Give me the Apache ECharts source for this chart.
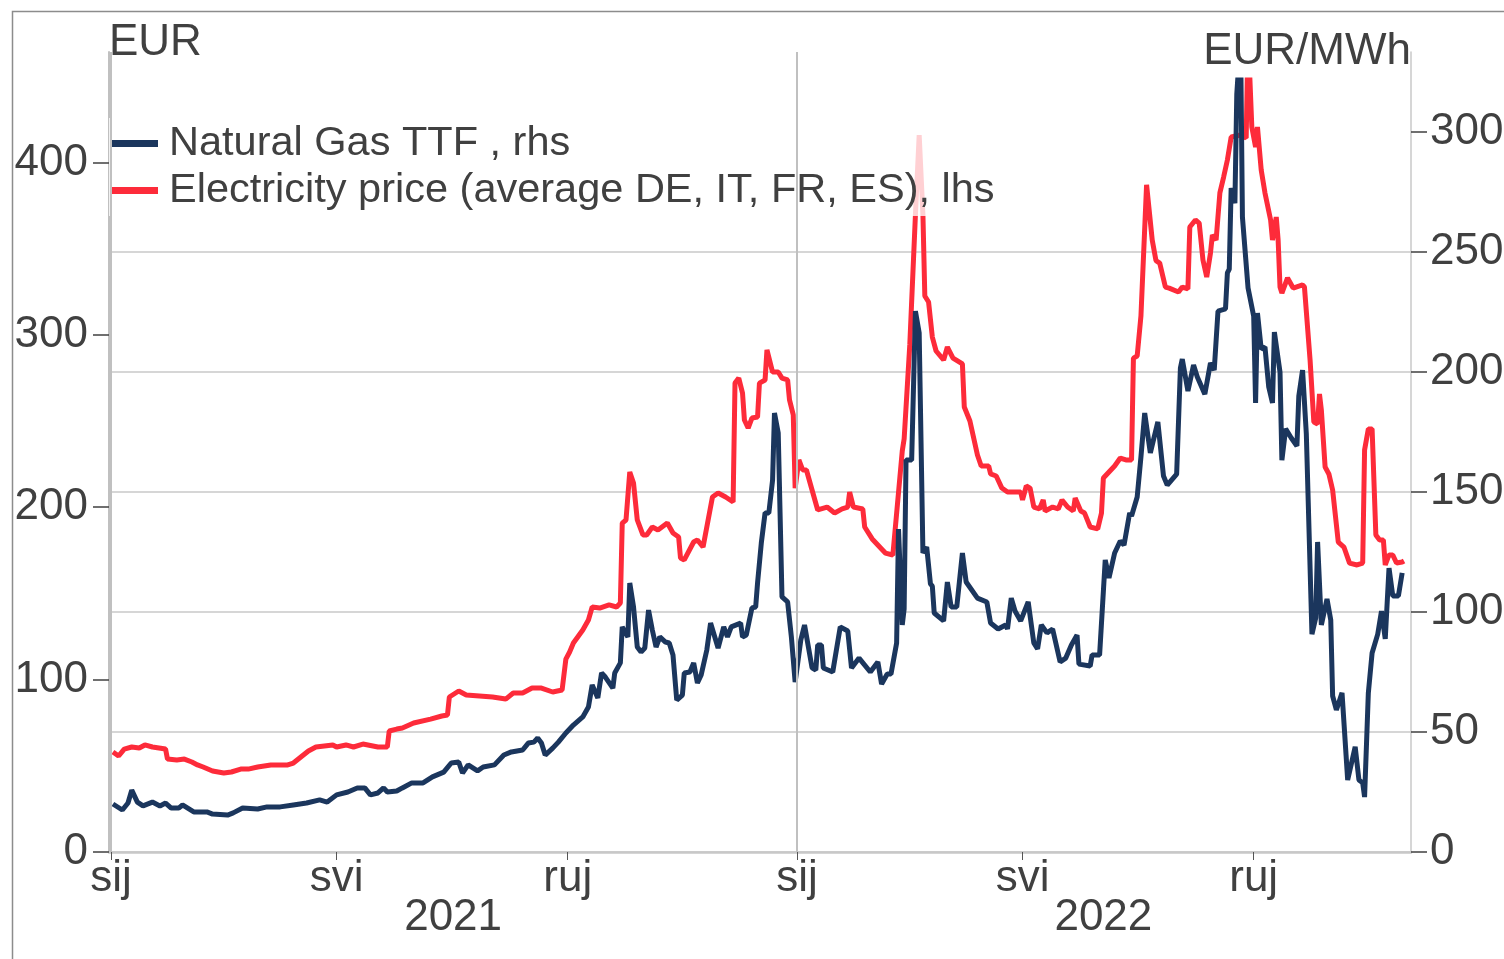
<!DOCTYPE html>
<html>
<head>
<meta charset="utf-8">
<title>Natural gas and electricity prices</title>
<script src="https://cdn.jsdelivr.net/npm/echarts@6/dist/echarts.min.js"></script>
<style>
  html, body { margin: 0; padding: 0; background: #fff; }
  #chart { width: 1504px; height: 959px; }
</style>
</head>
<body>
<div id="chart"></div>
<script>
// x positions are days counted from 1 Jan 2021
var elecDays = [1,4,7,11,15,18,22,29,30,35,39,43,46,49,54,60,64,69,73,78,85,94,97,101,105,109,118,120,125,129,134,142,147,148,152,155,161,170,176,179,180,185,189,203,210,214,219,224,229,235,240,242,244,246,251,254,256,260,265,269,271,272,274,276,278,280,283,285,288,291,296,299,302,303,305,310,312,315,318,320,323,327,331,332,334,336,337,339,341,344,345,348,349,352,355,357,360,361,363,364,366,368,370,373,376,381,385,389,392,393,395,400,401,405,408,412,416,421,422,425,428,430,432,433,435,437,439,443,445,448,453,454,457,461,463,467,468,471,474,477,484,485,487,489,491,494,496,497,501,504,506,509,512,513,516,518,521,525,527,528,531,534,537,540,543,544,546,548,551,554,556,558,561,563,568,570,573,574,577,579,581,583,585,586,588,590,592,594,596,601,604,605,606,607,609,610,612,614,617,618,620,621,622,623,626,629,634,635,638,640,642,643,644,646,648,650,653,656,659,663,666,667,668,669,671,673,675,677,678,680,682,684,687,688];
var elecValues = [58.0,55.7,59.7,60.9,60.3,62.1,60.9,59.7,53.9,53.4,53.9,52.2,50.5,49.3,47.0,45.8,46.4,48.1,48.1,49.3,50.5,50.5,51.6,55.1,58.6,60.9,62.1,60.9,62.1,60.9,62.6,60.9,60.9,70.2,71.3,71.9,74.8,77.1,78.9,79.5,89.9,93.4,91.1,89.9,88.7,92.2,92.2,95.1,95.1,92.8,94.0,111.9,116.0,121.2,128.8,134.6,142.1,141.5,143.3,142.1,144.4,190.8,192.6,220.4,214.0,192.6,183.9,183.9,188.5,186.8,190.8,185.0,182.7,170.5,169.4,179.8,181.0,176.9,194.3,205.9,208.2,205.9,203.0,272.0,274.9,266.2,250.6,245.9,251.7,252.3,272.0,273.8,291.2,278.4,278.4,274.9,273.8,262.2,253.5,211.1,227.4,221.6,221.6,210.0,198.4,200.1,196.6,199.0,200.1,208.8,200.1,199.0,188.5,181.6,178.1,173.4,172.3,232.6,239.6,294.1,369.5,415.9,369.5,322.5,319.0,298.7,290.6,285.4,292.9,286.5,283.1,258.1,250.0,230.3,223.9,223.9,219.3,218.1,211.1,208.8,208.8,204.2,212.3,211.1,200.1,199.0,204.2,197.8,200.1,199.0,204.2,200.1,197.8,205.3,197.8,196.6,188.5,187.4,196.6,216.9,220.4,223.9,228.5,227.4,227.4,286.5,287.7,310.9,387.0,355.0,343.0,341.6,327.7,327.1,324.8,327.7,326.6,362.5,366.6,364.8,343.4,333.5,347.4,357.9,355.0,382.3,391.5,401.4,414.7,415.9,414.2,475.0,475.0,420.5,408.9,420.5,395.6,382.3,366.6,355.0,368.3,355.0,327.7,324.2,333.0,327.1,328.9,327.7,285.4,249.4,248.3,265.7,256.4,223.3,219.3,210.0,179.8,176.9,167.6,166.5,167.6,233.2,234.3,245.4,245.4,183.9,181.0,181.0,166.5,172.3,172.3,167.6,168.2,168.8];

var gasDays = [1,6,9,11,14,17,22,26,29,32,36,38,44,51,54,62,65,70,78,83,90,97,104,111,115,120,126,131,135,138,142,145,147,152,155,160,166,171,177,181,185,187,190,195,198,204,209,213,219,222,225,227,229,231,235,238,242,246,251,254,256,259,261,263,267,268,271,272,275,276,278,280,282,284,286,288,290,292,295,297,299,301,304,305,308,310,312,314,317,319,320,323,326,328,330,335,336,338,341,343,344,346,348,350,352,353,355,357,360,362,364,367,369,373,375,376,378,379,384,388,392,394,398,404,408,410,413,415,418,419,421,422,423,426,428,430,432,434,436,437,438,443,445,446,447,450,453,455,461,466,468,472,476,477,479,481,484,488,491,493,495,498,501,505,508,511,514,515,521,522,526,529,531,534,537,539,542,543,546,548,550,553,554,557,560,562,567,569,570,573,576,578,582,585,587,589,593,594,595,596,598,599,601,602,605,608,609,610,612,614,616,618,619,622,623,625,628,631,632,634,636,639,641,642,644,647,649,650,652,655,658,662,664,666,667,669,671,674,676,678,680,682,685,687];
var gasValues = [20.0,17.5,20.4,25.8,20.8,19.2,20.8,19.2,20.4,18.3,18.3,19.6,16.7,16.7,15.8,15.4,16.3,18.3,17.9,18.8,18.8,19.6,20.4,21.7,20.8,23.8,25.0,26.7,26.7,23.8,24.6,26.7,25.0,25.4,26.7,28.8,28.8,31.3,33.3,37.1,37.5,32.9,36.3,33.8,35.4,36.3,40.4,41.7,42.5,45.4,45.8,47.5,45.4,40.4,43.3,45.8,49.6,52.9,56.3,60.4,69.6,64.2,74.6,72.9,68.3,74.6,78.8,93.8,89.6,112.1,102.1,85.4,83.3,85.0,100.8,92.5,85.4,89.6,87.5,87.1,82.1,63.3,65.4,74.6,75.0,78.8,70.4,73.8,84.2,95.4,95.4,85.0,93.8,89.6,93.8,95.4,89.6,90.4,101.7,102.1,112.1,128.8,141.3,141.3,155.0,182.9,174.6,106.3,104.2,89.6,70.8,88.3,94.6,76.7,75.8,86.3,86.3,76.7,75.0,93.8,92.1,76.7,80.8,75.0,79.2,70.0,74.2,74.2,87.1,134.6,94.6,101.3,163.3,163.3,225.4,216.3,124.6,127.1,111.7,110.8,99.6,96.3,112.5,112.5,102.1,102.1,124.6,112.5,105.8,104.2,95.4,92.9,94.6,92.9,105.8,100.4,96.3,104.2,87.1,84.6,94.6,91.3,92.9,79.2,80.8,86.3,90.4,78.3,77.5,82.1,82.1,121.7,114.2,124.6,129.6,127.9,141.3,140.0,147.9,164.6,182.9,166.3,166.3,179.2,156.7,152.9,157.5,201.7,205.4,192.1,202.9,197.9,190.8,203.8,200.8,225.4,226.3,241.3,242.9,276.7,270.4,315.8,340.0,264.6,235.0,223.3,187.1,224.6,209.6,210.4,193.8,187.1,216.7,200.0,163.3,176.3,172.5,169.2,190.0,200.8,174.2,90.8,97.5,129.2,94.6,105.4,96.7,65.0,59.2,66.3,30.0,43.8,30.0,28.8,22.9,66.3,82.9,90.8,100.4,88.8,118.3,106.7,106.7,116.3];

var monthTicks = ['2021-01-01','2021-05-01','2021-09-01','2022-01-01','2022-05-01','2022-09-01'];
var monthLabels = ['sij','svi','ruj','sij','svi','ruj'];
var yearLabels = ['2021','2022'];
var yearCentres = ['2021-07-02','2022-06-13'];
var yearStarts = ['2021-01-01','2022-01-01'];
var leftTicks = [0,100,200,300,400];
var rightTicks = [0,50,100,150,200,250,300];

var DAY = 86400000;
var DAY0 = Date.UTC(2021, 0, 1);
function toDay(s) { return Math.round((Date.parse(s) - DAY0) / DAY * 10) / 10; }

var xMin = -1.1;      // axis starts just before 1 Jan 2021
var xMax = 691.7;     // ... and ends around 23 Nov 2022
var leftMax = 447.8;
var rightMax = 321.7;

var TXT = '#404040';
var FONT = "'Liberation Sans', Arial, sans-serif";
var FS = 44;
var GAS = 'Natural Gas TTF , rhs';
var ELEC = 'Electricity price (average DE, IT, FR, ES), lhs';

var monthPos = monthTicks.map(toDay);
var yearPos = yearCentres.map(toDay);

var myChart = echarts.init(document.getElementById('chart'));

var option = {
  animation: false,
  backgroundColor: '#fff',
  textStyle: { fontFamily: FONT, color: TXT },
  graphic: [{
    type: 'rect',
    shape: { x: 12.5, y: 11.5, width: 1600, height: 1000 },
    style: { fill: 'none', stroke: '#8c8c8c', lineWidth: 1.5 },
    silent: true
  }],
  grid: [
    // plot area, lines are clipped here
    { left: 109, right: 93, top: 80, bottom: 107, containLabel: false, outerBoundsMode: 'none' },
    // frame: axis lines and year separators reach a bit higher
    { left: 109, right: 93, top: 52, bottom: 107, containLabel: false, outerBoundsMode: 'none' }
  ],
  legend: {
    data: [GAS, ELEC],
    orient: 'vertical',
    left: 109,
    top: 118,
    padding: [2, 14, 2, 2],
    itemGap: 0,
    itemWidth: 47,
    itemHeight: 7,
    icon: 'rect',
    selectedMode: false,
    backgroundColor: 'rgba(255,255,255,0.78)',
    textStyle: { fontSize: 41.5, color: TXT, fontFamily: FONT, lineHeight: 47, padding: [0, 0, 0, 6] }
  },
  xAxis: [
    {
      type: 'value', gridIndex: 0, min: xMin, max: xMax,
      axisLine: { show: true, onZero: false, lineStyle: { color: '#c8c8c8', width: 2.5 } },
      axisTick: { show: true, customValues: monthPos, length: 8, lineStyle: { color: '#555', width: 1 } },
      axisLabel: {
        customValues: monthPos, margin: 5, fontSize: FS, color: TXT, fontFamily: FONT,
        formatter: function (v) {
          var i = monthPos.indexOf(v);
          return i < 0 ? '' : monthLabels[i];
        }
      },
      splitLine: { show: false }
    },
    {
      type: 'value', gridIndex: 0, min: xMin, max: xMax, position: 'bottom',
      axisLine: { show: false, onZero: false }, axisTick: { show: false }, splitLine: { show: false },
      axisLabel: {
        customValues: yearPos, margin: 44, fontSize: FS, color: TXT, fontFamily: FONT,
        formatter: function (v) {
          var i = yearPos.indexOf(v);
          return i < 0 ? '' : yearLabels[i];
        }
      }
    },
    { type: 'value', gridIndex: 1, min: xMin, max: xMax, show: false, axisLine: { onZero: false } }
  ],
  yAxis: [
    {
      type: 'value', gridIndex: 0, position: 'left', min: 0, max: leftMax, interval: 100,
      axisLine: { show: false, onZero: false },
      axisTick: { show: true, customValues: leftTicks, length: 16, lineStyle: { color: TXT, width: 1.5 } },
      axisLabel: { customValues: leftTicks, margin: 21, fontSize: FS, color: TXT, fontFamily: FONT, padding: [5, 0, 0, 0] },
      splitLine: { show: false },
      name: 'EUR', nameLocation: 'end', nameGap: 15,
      nameTextStyle: { align: 'left', verticalAlign: 'bottom', fontSize: FS, color: TXT, fontFamily: FONT }
    },
    {
      type: 'value', gridIndex: 0, position: 'right', min: 0, max: rightMax, interval: 50,
      axisLine: { show: false, onZero: false },
      axisTick: { show: true, customValues: rightTicks, length: 16, lineStyle: { color: TXT, width: 1.5 } },
      axisLabel: { customValues: rightTicks, margin: 19, fontSize: FS, color: TXT, fontFamily: FONT, padding: [3, 0, 0, 0] },
      splitLine: { show: true, showMaxLine: false, lineStyle: { color: '#c8c8c8', width: 1.5 } },
      name: 'EUR/MWh', nameLocation: 'end', nameGap: 6,
      nameTextStyle: { align: 'right', verticalAlign: 'bottom', fontSize: FS, color: TXT, fontFamily: FONT }
    },
    {
      type: 'value', gridIndex: 1, position: 'left', min: 0, max: 1,
      axisLine: { show: true, onZero: false, lineStyle: { color: '#c0c0c0', width: 2 } },
      axisTick: { show: false }, axisLabel: { show: false }, splitLine: { show: false }
    },
    {
      type: 'value', gridIndex: 1, position: 'right', min: 0, max: 1,
      axisLine: { show: true, onZero: false, lineStyle: { color: '#c8c8c8', width: 1.5 } },
      axisTick: { show: false }, axisLabel: { show: false }, splitLine: { show: false }
    }
  ],
  series: [
    {
      name: ELEC, type: 'line', xAxisIndex: 0, yAxisIndex: 0,
      showSymbol: false, symbol: 'none', color: '#fd2b3a',
      lineStyle: { width: 5, color: '#fd2b3a' },
      data: elecDays.map(function (d, i) { return [d, elecValues[i]]; })
    },
    {
      name: GAS, type: 'line', xAxisIndex: 0, yAxisIndex: 1,
      showSymbol: false, symbol: 'none', color: '#1b365d',
      lineStyle: { width: 5, color: '#1b365d' },
      data: gasDays.map(function (d, i) { return [d, gasValues[i]]; })
    },
    {
      name: 'years', type: 'line', xAxisIndex: 2, yAxisIndex: 2, data: [], silent: true,
      markLine: {
        silent: true, symbol: 'none', label: { show: false },
        lineStyle: { color: '#c0c0c0', width: 2, type: 'solid' },
        data: yearStarts.map(function (d) { return { xAxis: toDay(d) }; })
      }
    }
  ]
};

myChart.setOption(option);
</script>
</body>
</html>
